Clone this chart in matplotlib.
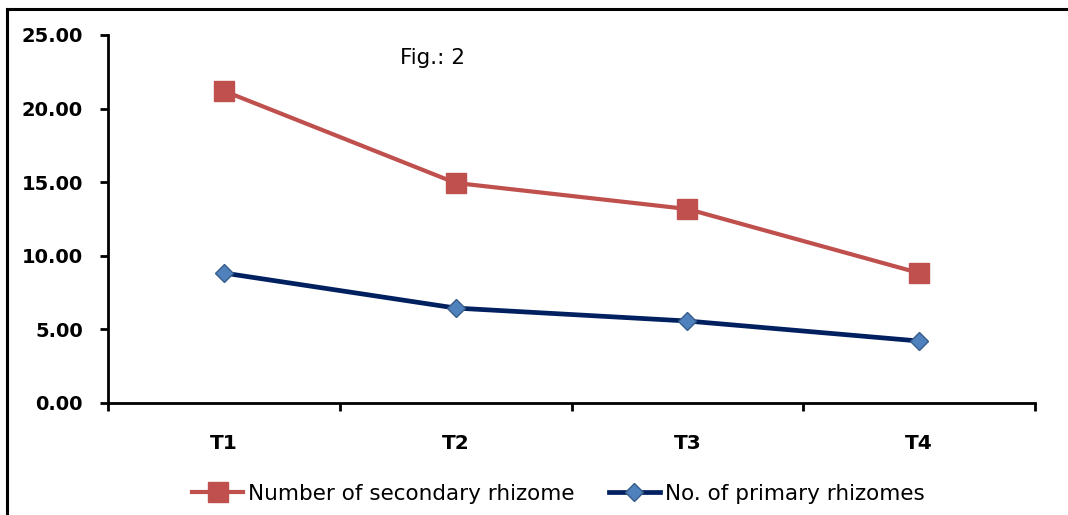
import matplotlib
matplotlib.use("Agg")
import matplotlib.pyplot as plt
from matplotlib.lines import Line2D

categories = ["T1", "T2", "T3", "T4"]
secondary = [21.2, 14.95, 13.18, 8.83]
primary = [8.83, 6.45, 5.57, 4.21]
yticks = [0, 5, 10, 15, 20, 25]

plt.rcParams['font.family'] = ['DejaVu Sans']

fig = plt.figure(figsize=(10.68, 5.15), dpi=100)
ax = fig.add_axes([108/1068, 1-403/515, (1035-108)/1068, (403-35)/515])

x = list(range(1, len(categories)+1))
ax.plot(x, secondary, color='#C0504D', lw=3.0, marker='s', markersize=14.5,
        markerfacecolor='#C0504D', markeredgecolor='#C0504D', label='Number of secondary rhizome',
        zorder=3)
ax.plot(x, primary, color='#002060', lw=3.4, marker='D', markersize=9.5,
        markerfacecolor='#4F81BD', markeredgecolor='#385D8A', markeredgewidth=1,
        label='No. of primary rhizomes', zorder=3)

ax.set_xlim(0.5, len(categories)+0.5)
ax.set_ylim(0, 25)
ax.set_yticks(yticks)
ax.set_yticklabels([f"{v:.2f}" for v in yticks], fontsize=14, fontweight='bold')
ax.set_xticks(x)
ax.set_xticklabels(categories, fontsize=14.5, fontweight='bold')
ax.set_xticks([i+0.5 for i in range(len(categories)+1)], minor=True)
ax.tick_params(axis='x', which='major', length=0, pad=22)
ax.tick_params(axis='x', which='minor', length=6, width=2, direction='out')
ax.tick_params(axis='y', length=6, width=2, direction='out', pad=12)
for s in ['top', 'right']:
    ax.spines[s].set_visible(False)
for s in ['left', 'bottom']:
    ax.spines[s].set_linewidth(2)
    ax.spines[s].set_color('black')

fig.text(433/1068, 1-58/515, "Fig.: 2", fontsize=15.5, ha='center', va='center')

leg = fig.legend(loc='center', bbox_to_anchor=(558/1068, 1-494/515), ncol=2, frameon=False,
                 fontsize=15.5, handlelength=2.4, columnspacing=1.6, handletextpad=0.2)

# figure border (top and left visible)
fig.add_artist(Line2D([7/1068, 7/1068], [0, 1-9/515], transform=fig.transFigure, color='black', lw=2.2))
fig.add_artist(Line2D([7/1068, 1], [1-9/515, 1-9/515], transform=fig.transFigure, color='black', lw=2.2))

fig.savefig("out.png", dpi=100)
